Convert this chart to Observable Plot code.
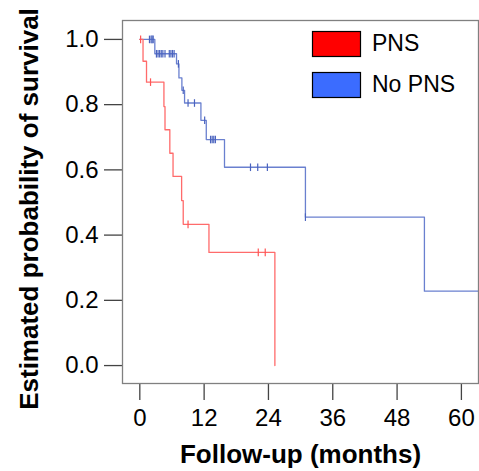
<!DOCTYPE html>
<html><head><meta charset="utf-8">
<script src="https://cdn.jsdelivr.net/npm/d3@7"></script>
<script src="https://cdn.jsdelivr.net/npm/@observablehq/plot@0.6"></script>
<style>
body{margin:0;background:#fff}
#chart{position:relative;width:479px;height:471px}
#chart svg{font-family:"Liberation Sans",Arial,sans-serif}
</style>
</head><body><div id="chart"></div>
<script>
// Kaplan-Meier step points (time in months, survival probability)
const pnsTime = [0, 0.6, 1.25, 4.5, 4.7, 5.6, 6.2, 7.8, 8.1, 12.9, 25.2];
const pnsSurv = [1, 0.933, 0.869, 0.794, 0.723, 0.651, 0.580, 0.506, 0.433, 0.347, 0];
const pnsCensorTime = [0.15, 2.0, 9.0, 22.1, 23.4];
const pnsCensorSurv = [1, 0.869, 0.433, 0.347, 0.347];

const noTime = [0, 2.8, 6.85, 7.3, 7.85, 8.35, 11.4, 12.4, 15.8, 30.9, 53.1, 66];
const noSurv = [1, 0.956, 0.925, 0.882, 0.844, 0.805, 0.752, 0.693, 0.608, 0.455, 0.228, 0.228];
const noCensorTime = [1.8, 2.1, 2.3, 2.5, 3.1, 3.4, 3.7, 4.0, 4.3, 4.7, 5.5, 5.8, 6.1, 6.4, 7.2, 8.1, 9.0, 10.2, 12.1, 13.2, 13.5, 13.8, 14.1, 20.65, 22.0, 23.8, 30.9];
const noCensorSurv = [1, 1, 1, 1, 0.956, 0.956, 0.956, 0.956, 0.956, 0.956, 0.956, 0.956, 0.956, 0.956, 0.925, 0.844, 0.805, 0.805, 0.752, 0.693, 0.693, 0.693, 0.693, 0.608, 0.608, 0.608, 0.455];

const groups = ["PNS", "No PNS"];
const legendColors = ["#ff0000", "#3b6cff"];
const lineColors = ["#ff6b6b", "#6a80cf"];
const censorColors = ["#ff5555", "#4a63bf"];
const xTicks = [0, 12, 24, 36, 48, 60];
const yTicks = [0, 0.2, 0.4, 0.6, 0.8, 1.0];
const xTitle = "Follow-up (months)";
const yTitle = "Estimated probability of survival";

const pns = pnsTime.map((t, i) => ({t, s: pnsSurv[i]}));
const noPns = noTime.map((t, i) => ({t, s: noSurv[i]}));
const pnsCens = pnsCensorTime.map((t, i) => ({t, s: pnsCensorSurv[i]}));
const noCens = noCensorTime.map((t, i) => ({t, s: noCensorSurv[i]}));

const vtick = {draw(ctx, size) { const r = Math.sqrt(size / Math.PI); ctx.moveTo(0, -r); ctx.lineTo(0, r); }};

const svg = Plot.plot({
  width: 479, height: 471,
  marginLeft: 122, marginRight: 1, marginTop: 20, marginBottom: 88,
  style: {fontFamily: "Liberation Sans, Arial, sans-serif", background: "#fff"},
  x: {domain: [-3.23, 63.19]},
  y: {domain: [-0.055, 1.058]},
  marks: [
    Plot.axisX({ticks: xTicks, tickSize: 17, tickPadding: 8, fontSize: 24, label: null, stroke: "#444", fill: "#000", strokeWidth: 1.3}),
    Plot.axisY({ticks: yTicks, tickSize: 18, tickPadding: 6, fontSize: 24, label: null, tickFormat: d3.format(".1f"), stroke: "#444", fill: "#000", strokeWidth: 1.3}),
    Plot.line(noPns, {x: "t", y: "s", curve: "step-after", stroke: lineColors[1], strokeWidth: 1.3, clip: true}),
    Plot.line(pns, {x: "t", y: "s", curve: "step-after", stroke: lineColors[0], strokeWidth: 1.3, clip: true}),
    Plot.dot(noCens, {x: "t", y: "s", symbol: vtick, r: 3.8, fill: "none", stroke: censorColors[1], strokeWidth: 1.2}),
    Plot.dot(pnsCens, {x: "t", y: "s", symbol: vtick, r: 3.8, fill: "none", stroke: censorColors[0], strokeWidth: 1.2}),
    Plot.frame({stroke: "#808080", strokeWidth: 1.3}),
    Plot.text([xTitle], {text: d => d, frameAnchor: "bottom", dy: 79, lineAnchor: "bottom", fontSize: 26, fontWeight: "bold", fill: "#000"}),
    Plot.text([yTitle], {text: d => d, frameAnchor: "left", dx: -85, dy: 7, rotate: -90, textAnchor: "middle", lineAnchor: "bottom", fontSize: 26, fontWeight: "bold", fill: "#000"})
  ]
});

// legend inside the plot area (top right)
const lg = d3.select(svg).append("g").attr("text-anchor", "start");
groups.forEach((g, i) => {
  const y0 = 31 + i * 41;
  lg.append("rect").attr("x", 312.5).attr("y", y0 + 0.5).attr("width", 48).attr("height", 25)
    .attr("fill", legendColors[i]).attr("stroke", "#000").attr("stroke-width", 1.2);
  lg.append("text").attr("x", 372).attr("y", y0 + 20).attr("font-size", 23)
    .attr("text-anchor", "start").attr("fill", "#000").text(g);
});

document.getElementById("chart").appendChild(svg);
</script></body></html>
